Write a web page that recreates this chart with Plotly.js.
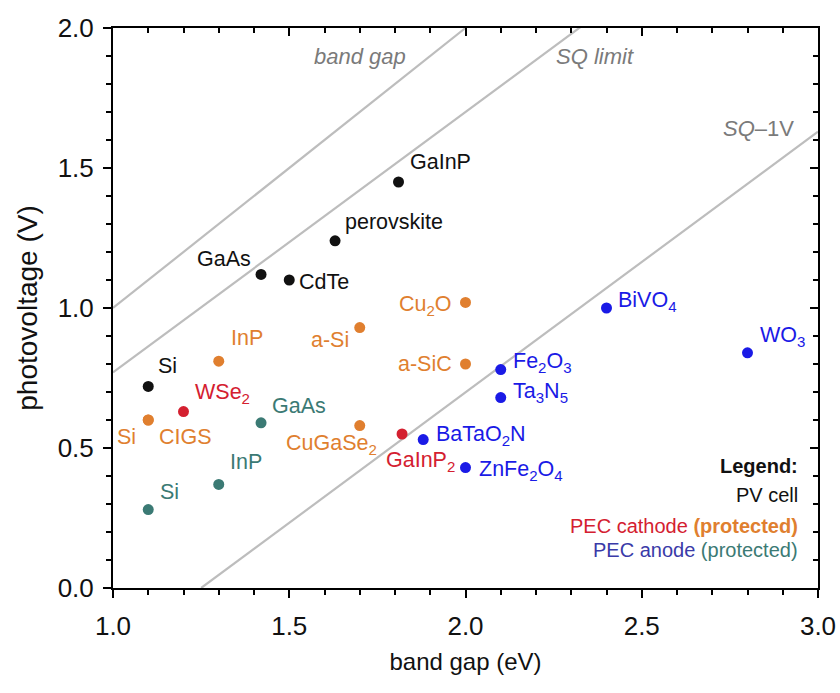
<!DOCTYPE html>
<html>
<head>
<meta charset="utf-8">
<script src="https://cdn.plot.ly/plotly-3.0.1.min.js"></script>
<style>html,body{margin:0;padding:0;background:#fff;}#chart{width:840px;height:693px;}</style>
</head>
<body>
<div id="chart"></div>
<script>
// ---------- data ----------
const pvNames = ['Si', 'GaAs', 'CdTe', 'perovskite', 'GaInP'];
const pvGap   = [1.10, 1.42, 1.50, 1.63, 1.81];
const pvVolt  = [0.72, 1.12, 1.10, 1.24, 1.45];

const cathProtNames = ['Si', 'CIGS', 'InP', 'a-Si', 'CuGaSe<sub>2</sub>', 'Cu<sub>2</sub>O', 'a-SiC'];
const cathProtGap   = [1.10, 1.10, 1.30, 1.70, 1.70, 2.00, 2.00];
const cathProtVolt  = [0.60, 0.60, 0.81, 0.93, 0.58, 1.02, 0.80];

const cathNames = ['WSe<sub>2</sub>', 'GaInP<sub>2</sub>'];
const cathGap   = [1.20, 1.82];
const cathVolt  = [0.63, 0.55];

const anodeNames = ['BaTaO<sub>2</sub>N', 'ZnFe<sub>2</sub>O<sub>4</sub>', 'Fe<sub>2</sub>O<sub>3</sub>', 'Ta<sub>3</sub>N<sub>5</sub>', 'BiVO<sub>4</sub>', 'WO<sub>3</sub>'];
const anodeGap   = [1.88, 2.00, 2.10, 2.10, 2.40, 2.80];
const anodeVolt  = [0.53, 0.43, 0.78, 0.68, 1.00, 0.84];

const anodeProtNames = ['Si', 'InP', 'GaAs'];
const anodeProtGap   = [1.10, 1.30, 1.42];
const anodeProtVolt  = [0.28, 0.37, 0.59];

// guide lines
const bandGapLineX = [1.0, 2.0];
const bandGapLineY = [1.0, 2.0];
const sqLimitX = [1.0, 3.0];
const sqLimitY = [0.77, 2.63];
const sqMinus1X = [1.25, 3.0];
const sqMinus1Y = [0.0, 1.63];

const xTickVals = [1.0, 1.5, 2.0, 2.5, 3.0];
const yTickVals = [0.0, 0.5, 1.0, 1.5, 2.0];

// ---------- styles (label offsets: [xanchor, xshift, yshift]) ----------
const C = {pv:'#111111', cathProt:'#E07F2F', cath:'#D42030', anode:'#1A1AE6', anodeProt:'#3B7A74', guide:'#BDBDBD', guideText:'#7A7A7A'};
const pvOff = [['left',8,20],['right',-8,15],['left',8,-2],['left',8,19],['left',9,20]];
const cathProtOff = [['right',-10,-17],['left',9,-17],['left',10,23],['right',-9,-12],['center',-28,-19],['right',-12,-3],['right',-12,0]];
const cathOff = [['left',9,18],['left',-18,-27]];
const anodeOff = [['left',11,4],['left',11,-3],['left',10,7],['left',10,5],['left',9,7],['left',10,16]];
const anodeProtOff = [['left',10,18],['left',9,22],['left',9,17]];

const labelFont = 'Liberation Sans, Arial, sans-serif';

function guide(x, y) {
  return {x: x, y: y, mode: 'lines', line: {color: C.guide, width: 2.2}, hoverinfo: 'skip', showlegend: false};
}
function pts(x, y, color) {
  return {x: x, y: y, mode: 'markers', marker: {color: color, size: 11}, showlegend: false};
}

const data = [
  guide(bandGapLineX, bandGapLineY),
  guide(sqLimitX, sqLimitY),
  guide(sqMinus1X, sqMinus1Y),
  pts(pvGap, pvVolt, C.pv),
  pts(cathProtGap, cathProtVolt, C.cathProt),
  pts(cathGap, cathVolt, C.cath),
  pts(anodeGap, anodeVolt, C.anode),
  pts(anodeProtGap, anodeProtVolt, C.anodeProt),
  {x: [], y: [], xaxis: 'x2', yaxis: 'y2', mode: 'markers', showlegend: false, hoverinfo: 'skip'}
];

const annotations = [];
function addLabels(names, xs, ys, offs, color) {
  names.forEach((n, i) => {
    annotations.push({x: xs[i], y: ys[i], xref: 'x', yref: 'y', text: n, showarrow: false,
      xanchor: offs[i][0], yanchor: 'middle', xshift: offs[i][1], yshift: offs[i][2],
      font: {family: labelFont, size: 21.5, color: color}});
  });
}
addLabels(pvNames, pvGap, pvVolt, pvOff, C.pv);
addLabels(cathProtNames, cathProtGap, cathProtVolt, cathProtOff, C.cathProt);
addLabels(cathNames, cathGap, cathVolt, cathOff, C.cath);
addLabels(anodeNames, anodeGap, anodeVolt, anodeOff, C.anode);
addLabels(anodeProtNames, anodeProtGap, anodeProtVolt, anodeProtOff, C.anodeProt);

// guide-line labels
const guideLabelFont = {family: labelFont, size: 22, color: C.guideText};
annotations.push({x: 1.70, y: 1.90, xref: 'x', yref: 'y', text: '<i>band gap</i>', showarrow: false, font: guideLabelFont});
annotations.push({x: 2.367, y: 1.90, xref: 'x', yref: 'y', text: '<i>SQ limit</i>', showarrow: false, font: guideLabelFont});
annotations.push({x: 2.83, y: 1.64, xref: 'x', yref: 'y', text: '<i>SQ</i>\u20131V', showarrow: false, font: guideLabelFont});

// legend text
const legFont = {family: labelFont, size: 20, color: '#111'};
annotations.push({x: 0.975, y: 0.218, xref: 'paper', yref: 'paper', xanchor: 'right', yanchor: 'middle', showarrow: false, text: '<b>Legend:</b>', font: legFont});
annotations.push({x: 0.975, y: 0.166, xref: 'paper', yref: 'paper', xanchor: 'right', yanchor: 'middle', showarrow: false, text: 'PV cell', font: legFont});
annotations.push({x: 0.975, y: 0.111, xref: 'paper', yref: 'paper', xanchor: 'right', yanchor: 'middle', showarrow: false,
  text: '<span style="color:' + C.cath + '">PEC cathode </span><b><span style="color:' + C.cathProt + '">(protected)</span></b>', font: legFont});
annotations.push({x: 0.975, y: 0.068, xref: 'paper', yref: 'paper', xanchor: 'right', yanchor: 'middle', showarrow: false,
  text: '<span style="color:#3A3AA8">PEC anode </span><span style="color:' + C.anodeProt + '">(protected)</span>', font: legFont});

const axCommon = {showgrid: false, zeroline: false, showline: true, linecolor: '#000', linewidth: 2,
  tickcolor: '#000', tickwidth: 2, ticklen: 8};

const layout = {
  width: 840, height: 693,
  margin: {l: 113, r: 22, t: 28, b: 105},
  paper_bgcolor: '#fff', plot_bgcolor: '#fff',
  showlegend: false,
  xaxis: Object.assign({}, axCommon, {
    range: [1, 3], tickvals: xTickVals, tickformat: '.1f', ticks: 'outside',
    minor: {dtick: 0.1, tick0: 1, ticks: 'outside', ticklen: 5, tickwidth: 2, tickcolor: '#000'},
    tickfont: {family: labelFont, size: 26, color: '#111'}, ticklabelstandoff: 6,
    title: {text: 'band gap (eV)', font: {family: labelFont, size: 24, color: '#111'}, standoff: 13}
  }),
  yaxis: Object.assign({}, axCommon, {
    range: [0, 2], tickvals: yTickVals, tickformat: '.1f', ticks: 'outside',
    minor: {dtick: 0.1, tick0: 0, ticks: 'outside', ticklen: 5, tickwidth: 2, tickcolor: '#000'},
    tickfont: {family: labelFont, size: 26, color: '#111'}, ticklabelstandoff: 4,
    title: {text: 'photovoltage (V)', font: {family: labelFont, size: 28, color: '#111'}, standoff: 12}
  }),
  xaxis2: Object.assign({}, axCommon, {
    overlaying: 'x', side: 'top', anchor: 'y2', range: [1, 3], tickvals: xTickVals, ticks: 'inside',
    minor: {dtick: 0.1, tick0: 1, ticks: 'inside', ticklen: 5, tickwidth: 2, tickcolor: '#000'},
    showticklabels: false
  }),
  yaxis2: Object.assign({}, axCommon, {
    overlaying: 'y', side: 'right', anchor: 'x2', range: [0, 2], tickvals: yTickVals, ticks: 'inside',
    minor: {dtick: 0.1, tick0: 0, ticks: 'inside', ticklen: 5, tickwidth: 2, tickcolor: '#000'},
    showticklabels: false
  }),
  annotations: annotations
};

Plotly.newPlot('chart', data, layout, {displayModeBar: false, staticPlot: true});
</script>
</body>
</html>
